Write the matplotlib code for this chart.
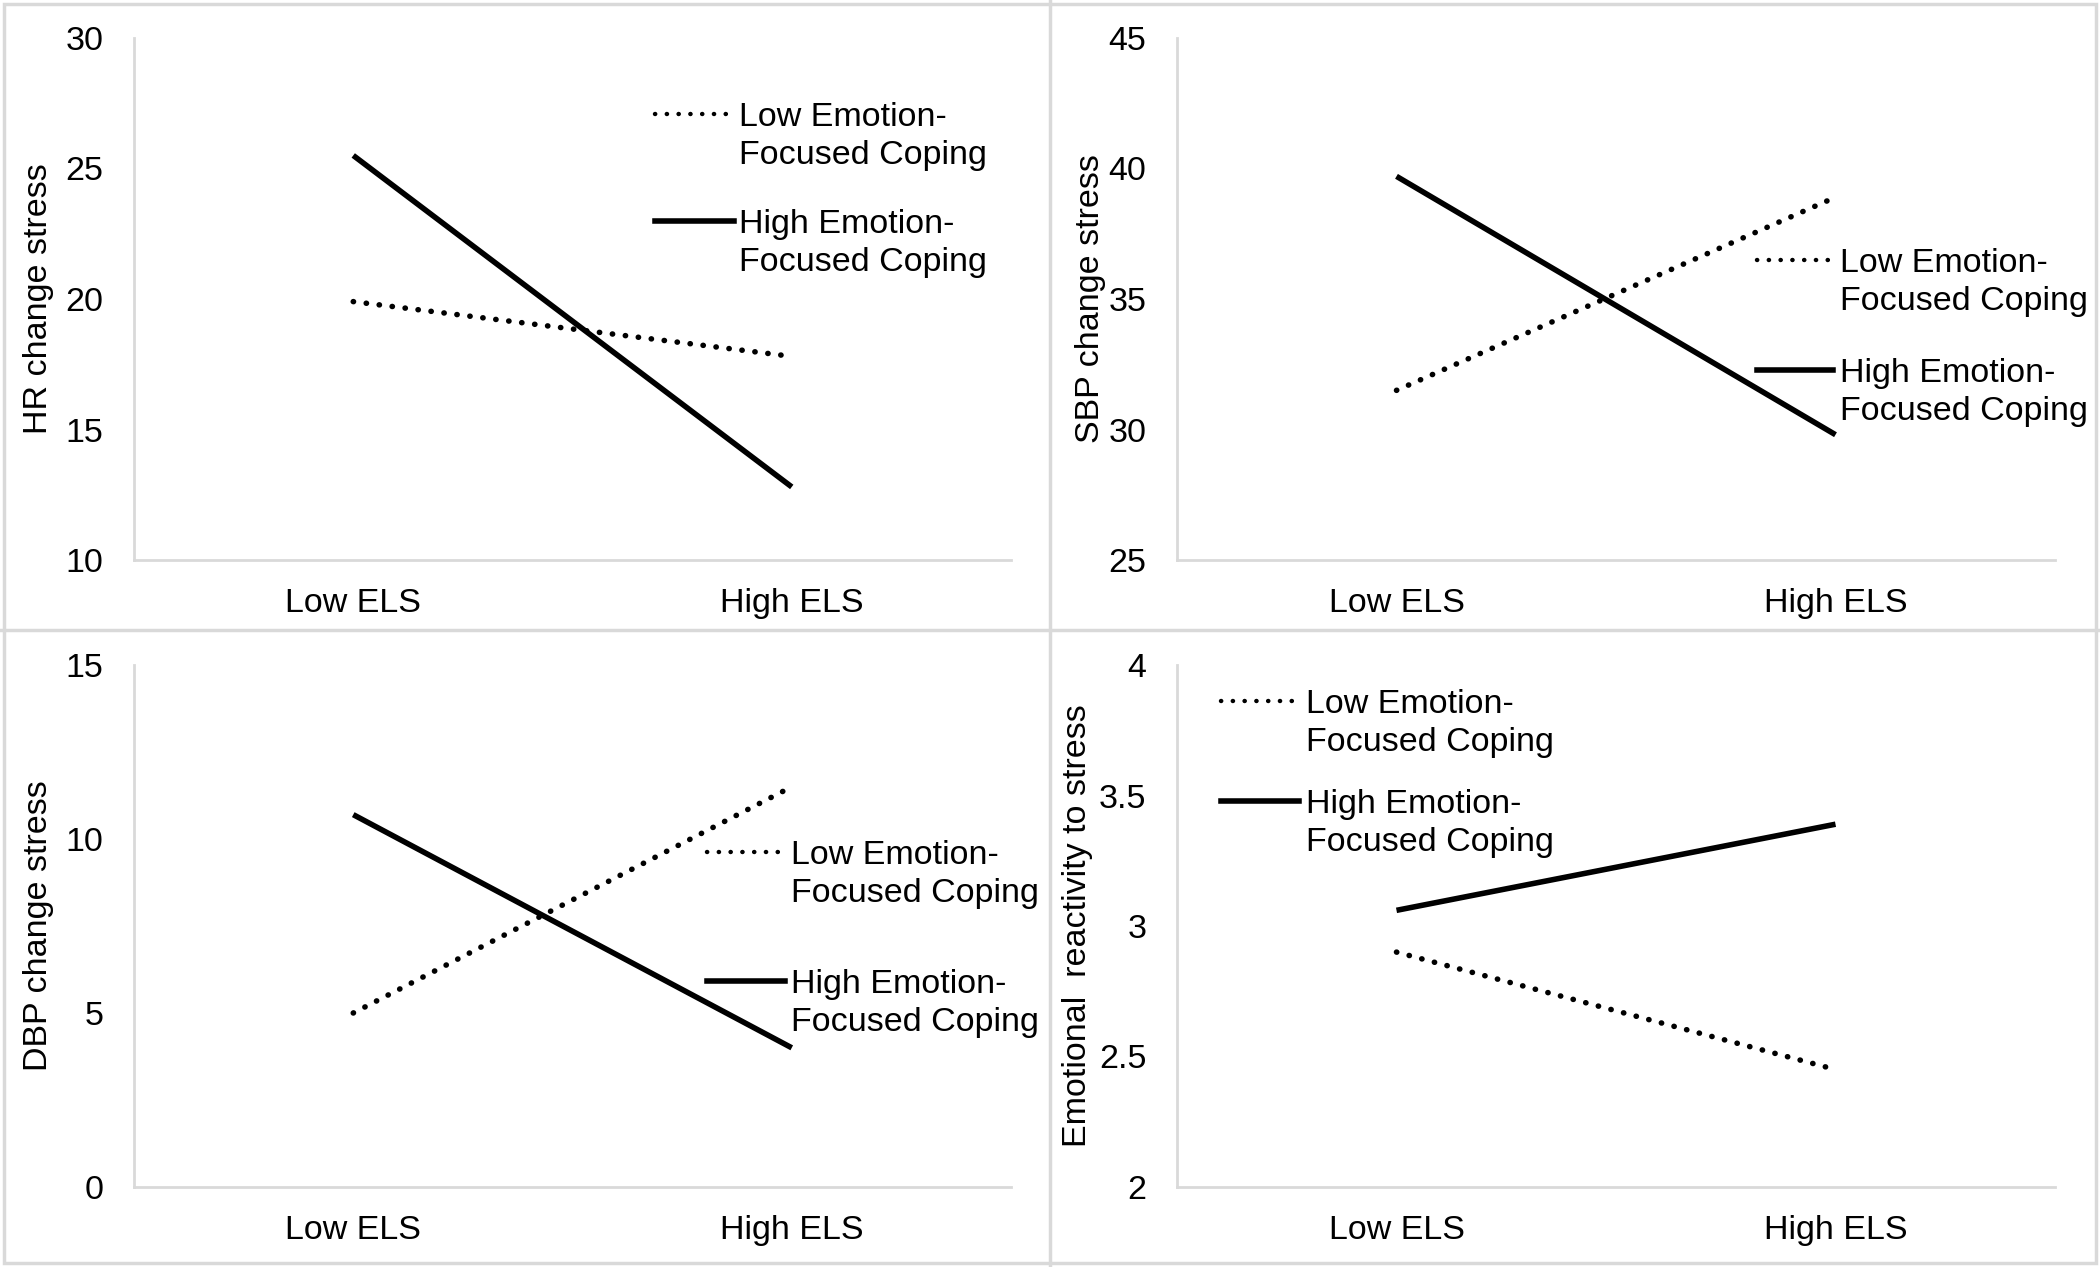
import matplotlib
matplotlib.use("Agg")
import matplotlib.pyplot as plt
from matplotlib.lines import Line2D
from matplotlib.patches import Rectangle

plt.rcParams['font.family'] = ['Liberation Sans', 'DejaVu Sans']

categories = ['Low ELS', 'High ELS']
series_names = [['Low Emotion-', 'Focused Coping'], ['High Emotion-', 'Focused Coping']]

hr_low = [19.9, 17.8]
hr_high = [25.5, 12.8]
sbp_low = [31.5, 38.9]
sbp_high = [39.7, 29.8]
dbp_low = [5.0, 11.5]
dbp_high = [10.7, 4.0]
emo_low = [2.90, 2.45]
emo_high = [3.06, 3.39]

panels = [
    # low series, high series, ylabel, ylim, ticks, tick labels
    (hr_low, hr_high, 'HR change stress', (10, 30), [10, 15, 20, 25, 30], ['10', '15', '20', '25', '30']),
    (sbp_low, sbp_high, 'SBP change stress', (25, 45), [25, 30, 35, 40, 45], ['25', '30', '35', '40', '45']),
    (dbp_low, dbp_high, 'DBP change stress', (0, 15), [0, 5, 10, 15], ['0', '5', '10', '15']),
    (emo_low, emo_high, 'Emotional  reactivity to stress', (2, 4), [2, 2.5, 3, 3.5, 4], ['2', '2.5', '3', '3.5', '4']),
]

# axes rectangles in figure fractions (left, bottom, width, height)
W, H = 2100, 1267
boxes = [
    (134 / W, 1 - 560 / H, 877 / W, 522 / H),
    (1177 / W, 1 - 560 / H, 878 / W, 522 / H),
    (134 / W, 1 - 1187 / H, 877 / W, 522 / H),
    (1177 / W, 1 - 1187 / H, 878 / W, 522 / H),
]
label_x = [-0.091, -0.081, -0.091, -0.096]
# legend placement per panel: handle x0, x1, text x, y low, y high (axes fraction)
legends = [
    (0.594, 0.684, 0.690, 0.854, 0.649),
    (0.661, 0.747, 0.755, 0.575, 0.364),
    (0.653, 0.742, 0.749, 0.642, 0.395),
    (0.050, 0.139, 0.147, 0.931, 0.739),
]
line_gap = 38 / 522

spine_col = '#d9d9d9'
fs = 24.5
lw = 4.0
dotted = (0, (0.05, 2.3))

fig = plt.figure(figsize=(21, 12.67), dpi=100)

for i, (low, high, ylab, ylim, yt, ytl) in enumerate(panels):
    ax = fig.add_axes(boxes[i])
    x = range(len(categories))
    ax.plot(x, low, color='black', lw=lw, linestyle=dotted, dash_capstyle='round')
    ax.plot(x, high, color='black', lw=lw, solid_capstyle='butt')
    ax.set_xlim(-0.5, 1.5)
    ax.set_ylim(*ylim)
    ax.set_yticks(yt)
    ax.set_yticklabels(ytl)
    ax.set_xticks(list(x))
    ax.set_xticklabels(categories)
    ax.tick_params(length=0, labelsize=fs, colors='black')
    ax.tick_params(axis='y', pad=22)
    ax.tick_params(axis='x', pad=20)
    for s in ['top', 'right']:
        ax.spines[s].set_visible(False)
    for s in ['left', 'bottom']:
        ax.spines[s].set_color(spine_col)
        ax.spines[s].set_linewidth(2)
    ax.set_ylabel(ylab, fontsize=fs, color='black')
    ax.yaxis.set_label_coords(label_x[i], 0.5)

    x0, x1, tx, yl, yh = legends[i]
    ax.add_line(Line2D([x0, x1], [yl, yl], transform=ax.transAxes, color='black', lw=lw * 0.8,
                       linestyle=(0, (0.05, 2.6)), dash_capstyle='round', clip_on=False))
    ax.add_line(Line2D([x0, x1], [yh, yh], transform=ax.transAxes, color='black', lw=lw,
                       clip_on=False))
    for y0, name in [(yl, series_names[0]), (yh, series_names[1])]:
        for k, part in enumerate(name):
            ax.text(tx, y0 - k * line_gap, part, transform=ax.transAxes, fontsize=fs,
                    va='center_baseline', ha='left', clip_on=False)

# panel frames
fig.add_artist(Rectangle((4 / W, 4 / H), 1 - 8 / W, 1 - 8 / H, transform=fig.transFigure,
                         fill=False, edgecolor=spine_col, lw=2.5))
fig.add_artist(Line2D([1050 / W, 1050 / W], [0, 1], transform=fig.transFigure, color=spine_col, lw=2.5))
fig.add_artist(Line2D([0, 1], [1 - 630 / H, 1 - 630 / H], transform=fig.transFigure, color=spine_col, lw=2.5))

fig.savefig('out.png', dpi=100)
